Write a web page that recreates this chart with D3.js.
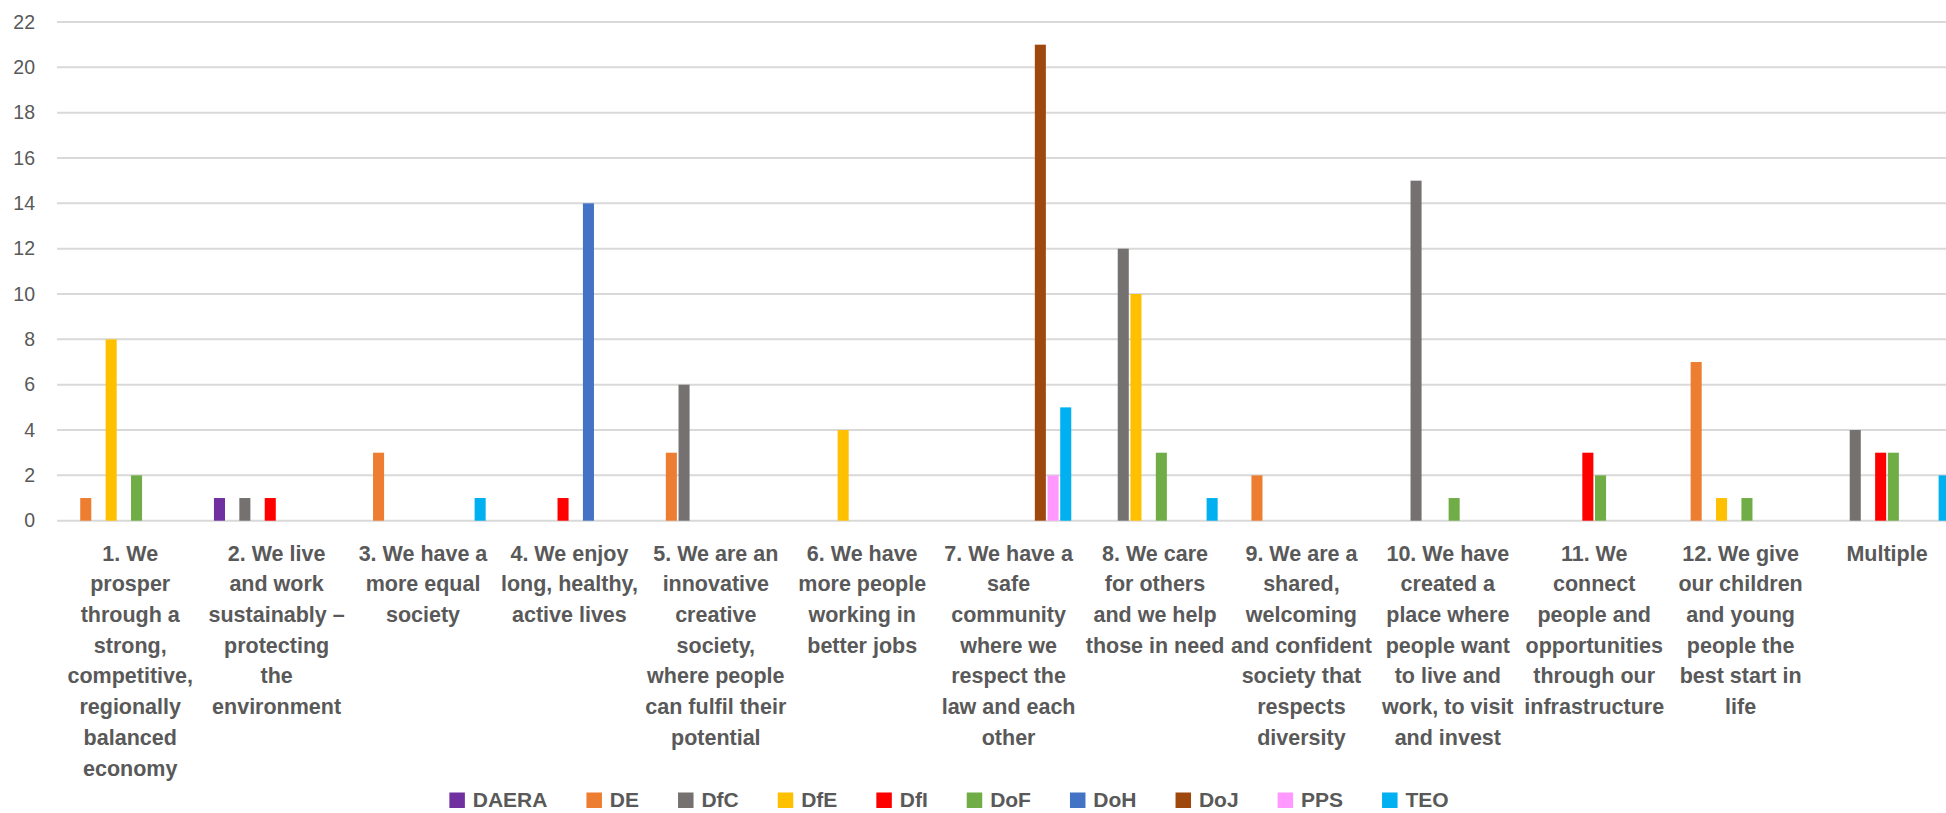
<!DOCTYPE html>
<html>
<head>
<meta charset="utf-8">
<script src="https://cdn.jsdelivr.net/npm/d3@7"></script>
<style>
  html, body { margin: 0; padding: 0; background: #fff; overflow: hidden; }
  svg { display: block; font-family: "Liberation Sans", Arial, sans-serif; }
</style>
</head>
<body>
<svg id="chart" width="1946" height="813"></svg>
<script>
// ---- data ----
const categoryLines = [
  ["1. We", "prosper", "through a", "strong,", "competitive,", "regionally", "balanced", "economy"],
  ["2. We live", "and work", "sustainably \u2013", "protecting", "the", "environment"],
  ["3. We have a", "more equal", "society"],
  ["4. We enjoy", "long, healthy,", "active lives"],
  ["5. We are an", "innovative", "creative", "society,", "where people", "can fulfil their", "potential"],
  ["6. We have", "more people", "working in", "better jobs"],
  ["7. We have a", "safe", "community", "where we", "respect the", "law and each", "other"],
  ["8. We care", "for others", "and we help", "those in need"],
  ["9. We are a", "shared,", "welcoming", "and confident", "society that", "respects", "diversity"],
  ["10. We have", "created a", "place where", "people want", "to live and", "work, to visit", "and invest"],
  ["11. We", "connect", "people and", "opportunities", "through our", "infrastructure"],
  ["12. We give", "our children", "and young", "people the", "best start in", "life"],
  ["Multiple"]
];
const categories = categoryLines.map(l => l.join(" "));
const seriesNames = ["DAERA", "DE", "DfC", "DfE", "DfI", "DoF", "DoH", "DoJ", "PPS", "TEO"];
const seriesColors = ["#7030A0", "#ED7D31", "#767171", "#FFC000", "#FF0000", "#70AD47", "#4472C4", "#9E480E", "#FF99FF", "#00B0F0"];
// values per series, one per category (13)
const DAERA = [0, 1, 0, 0, 0, 0, 0, 0, 0, 0, 0, 0, 0];
const DE    = [1, 0, 3, 0, 3, 0, 0, 0, 2, 0, 0, 7, 0];
const DfC   = [0, 1, 0, 0, 6, 0, 0, 12, 0, 15, 0, 0, 4];
const DfE   = [8, 0, 0, 0, 0, 4, 0, 10, 0, 0, 0, 1, 0];
const DfI   = [0, 1, 0, 1, 0, 0, 0, 0, 0, 0, 3, 0, 3];
const DoF   = [2, 0, 0, 0, 0, 0, 0, 3, 0, 1, 2, 1, 3];
const DoH   = [0, 0, 0, 14, 0, 0, 0, 0, 0, 0, 0, 0, 0];
const DoJ   = [0, 0, 0, 0, 0, 0, 21, 0, 0, 0, 0, 0, 0];
const PPS   = [0, 0, 0, 0, 0, 0, 2, 0, 0, 0, 0, 0, 0];
const TEO   = [0, 0, 1, 0, 0, 0, 5, 1, 0, 0, 0, 0, 2];
const seriesValues = [DAERA, DE, DfC, DfE, DfI, DoF, DoH, DoJ, PPS, TEO];
const yTicks = [0, 2, 4, 6, 8, 10, 12, 14, 16, 18, 20, 22];

// ---- layout ----
const svg = d3.select("#chart");
const W = 1946;
const plotLeft = 57, catStep = 146.4;
const yTop = 22, yBottom = 520.7;
const textColor = "#595959";

const x = d3.scaleBand().domain(categories).range([plotLeft, plotLeft + catStep * categories.length]).padding(0);
const xs = d3.scaleBand().domain(seriesNames).range([0, x.bandwidth()]).paddingInner(0.13).paddingOuter(0.83);
const y = d3.scaleLinear().domain([0, 22]).range([yBottom, yTop]);

// gridlines
svg.append("g").selectAll("line").data(yTicks).join("line")
  .attr("x1", plotLeft).attr("x2", W)
  .attr("y1", d => y(d)).attr("y2", d => y(d))
  .attr("stroke", "#d9d9d9").attr("stroke-width", 2);

// y axis labels
const yAxis = svg.append("g").attr("transform", `translate(${plotLeft},0)`)
  .call(d3.axisLeft(y).tickValues(yTicks).tickSize(0).tickPadding(22));
yAxis.select(".domain").remove();
yAxis.selectAll("text").attr("fill", textColor).style("font-size", "19.5px")
  .style("font-family", "'Liberation Sans', Arial, sans-serif");

// bars
const flat = [];
seriesNames.forEach((s, si) => {
  seriesValues[si].forEach((v, ci) => { if (v > 0) flat.push({ s, si, c: categories[ci], v }); });
});
svg.append("g").selectAll("rect").data(flat).join("rect")
  .attr("x", d => x(d.c) + xs(d.s))
  .attr("width", xs.bandwidth())
  .attr("y", d => y(d.v))
  .attr("height", d => y(0) - y(d.v))
  .attr("fill", d => seriesColors[d.si]);

// x axis labels
const xAxis = svg.append("g").attr("transform", `translate(0,${yBottom})`)
  .call(d3.axisBottom(x).tickSize(0).tickFormat(""));
xAxis.select(".domain").remove();
const lineH = 30.7;
xAxis.selectAll(".tick").each(function(d, i) {
  const t = d3.select(this).append("text")
    .attr("fill", textColor)
    .attr("text-anchor", "middle")
    .style("font-size", "21.5px").style("font-weight", "bold")
    .style("font-family", "'Liberation Sans', Arial, sans-serif");
  categoryLines[i].forEach((ln, k) => {
    t.append("tspan").attr("x", 0).attr("y", 40 + k * lineH).text(ln);
  });
});

// legend
const leg = svg.append("g");
const items = leg.selectAll("g").data(seriesNames).join("g");
items.append("rect").attr("width", 15.5).attr("height", 15.5).attr("y", -14.5)
  .attr("fill", (d, i) => seriesColors[i]);
items.append("text").attr("x", 23.4).attr("fill", textColor)
  .style("font-size", "21px").style("font-weight", "bold")
  .style("font-family", "'Liberation Sans', Arial, sans-serif")
  .text(d => d);
let cx = 0;
items.each(function() {
  const g = d3.select(this);
  g.attr("transform", `translate(${cx},0)`);
  const tw = g.select("text").node().getComputedTextLength();
  cx += 23.4 + tw + 39;
});
const totalW = cx - 39;
const legStart = 949 - totalW / 2;
leg.attr("transform", `translate(${legStart},807)`);
</script>
</body>
</html>
